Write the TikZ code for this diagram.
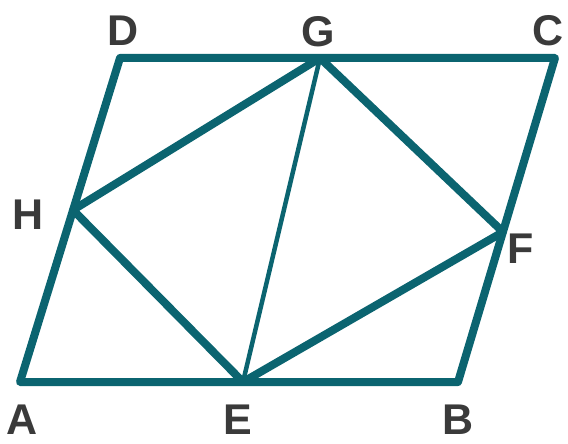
\documentclass[tikz,border=0pt]{standalone}
\usepackage{fontspec}
\setmainfont{Liberation Sans}
\begin{document}
\begin{tikzpicture}[x=1pt,y=-1pt,
  edge/.style={draw=teal1,line width=8pt,line join=round,line cap=round},
  thinedge/.style={draw=teal1,line width=4.5pt,line cap=round},
  lab/.style={text=labgray,font=\fontsize{43}{43}\selectfont\bfseries,inner sep=0pt}]
\definecolor{teal1}{HTML}{0B6470}
\definecolor{labgray}{HTML}{3A3A3A}
\useasboundingbox (0,0) rectangle (568,444);
\coordinate (A) at (20,382);
\coordinate (B) at (458,382);
\coordinate (C) at (555,58);
\coordinate (D) at (120,58);
\coordinate (G) at (320,58);
\coordinate (H) at (73,210);
\coordinate (F) at (503,232);
\coordinate (E) at (243,382);
\draw[edge] (A) -- (B) -- (C) -- (D) -- cycle;
\draw[edge] (E) -- (F) -- (G) -- (H) -- cycle;
\draw[thinedge] (G) -- (E);
\node[lab] (lA) at (22,420) {A};
\node[lab] (lB) at (458,420) {B};
\node[lab] (lC) at (548,31) {C};
\node[lab] (lD) at (123,31) {D};
\node[lab] (lG) at (318,32) {G};
\node[lab] (lH) at (28,215) {H};
\node[lab] (lF) at (521,249) {F};
\node[lab] (lE) at (238,420) {E};
\end{tikzpicture}
\end{document}
